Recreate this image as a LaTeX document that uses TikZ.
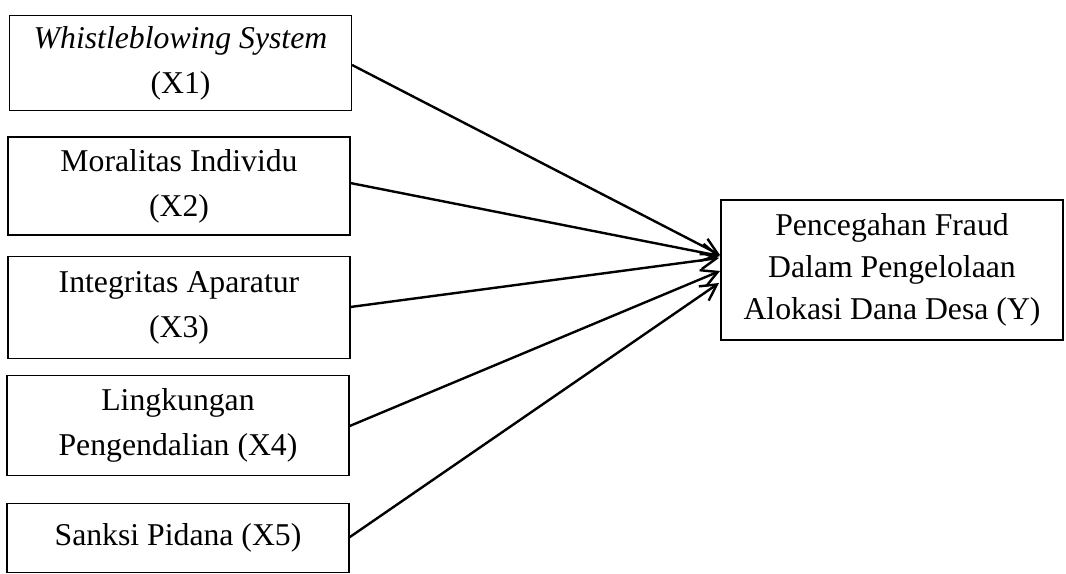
\documentclass[tikz,border=0pt]{standalone}
\usepackage{fontspec}
\setmainfont{Liberation Serif}
\usepackage{tikz}
\usetikzlibrary{arrows.meta}
\tikzset{>={Straight Barb[length=12pt,width=13pt,line width=1.8pt]}}
\tikzset{varbox/.style={draw,line width=0.9pt,align=center,inner sep=2pt,
		font=\fontsize{23.8}{33.75}\selectfont,minimum width=256.5pt}}
\tikzset{path/.style={->,line width=1.8pt}}

\begin{document}
\begin{tikzpicture}[x=0.75pt,y=-0.75pt]
		\useasboundingbox (0,0) rectangle (1066,574);

		\node[varbox,minimum height=71pt] (X1) at (180.5,63) {\textit{Whistleblowing System}\\(X1)};
		\node[varbox,minimum height=73.5pt] (X2) at (179,186) {Moralitas Individu\\(X2)};
		\node[varbox,minimum height=76pt] (X3) at (179,307.5) {Integritas Aparatur\\(X3)};
		\node[varbox,minimum height=75pt] (X4) at (178,425.5) {Lingkungan\\Pengendalian (X4)};
		\node[varbox,minimum height=52pt] (X5) at (178,538) {Sanksi Pidana (X5)};
		\node[varbox,minimum height=105pt,font=\fontsize{23.8}{31.5}\selectfont] (Y) at (892,270) {Pencegahan Fraud\\Dalam Pengelolaan\\Alokasi Dana Desa (Y)};

		%\draw[help lines] (0,0) grid (1066,574);
		\coordinate (t1) at (720,255);
		\coordinate (t2) at (720,256);
		\coordinate (t3) at (719,258);
		\coordinate (t4) at (720,271);
		\coordinate (t5) at (719,283);

		\draw[path] ([yshift=-1.5pt]X1.east) -- (t1);
		\draw[path] ([yshift=2.2pt]X2.east) -- (t2);
		\draw[path] ([yshift=0.4pt]X3.east) -- (t3);
		\draw[path] ([yshift=-0.4pt]X4.east) -- (t4);
		\draw[path] ([yshift=0.6pt]X5.east) -- (t5);
	\end{tikzpicture}
\end{document}
